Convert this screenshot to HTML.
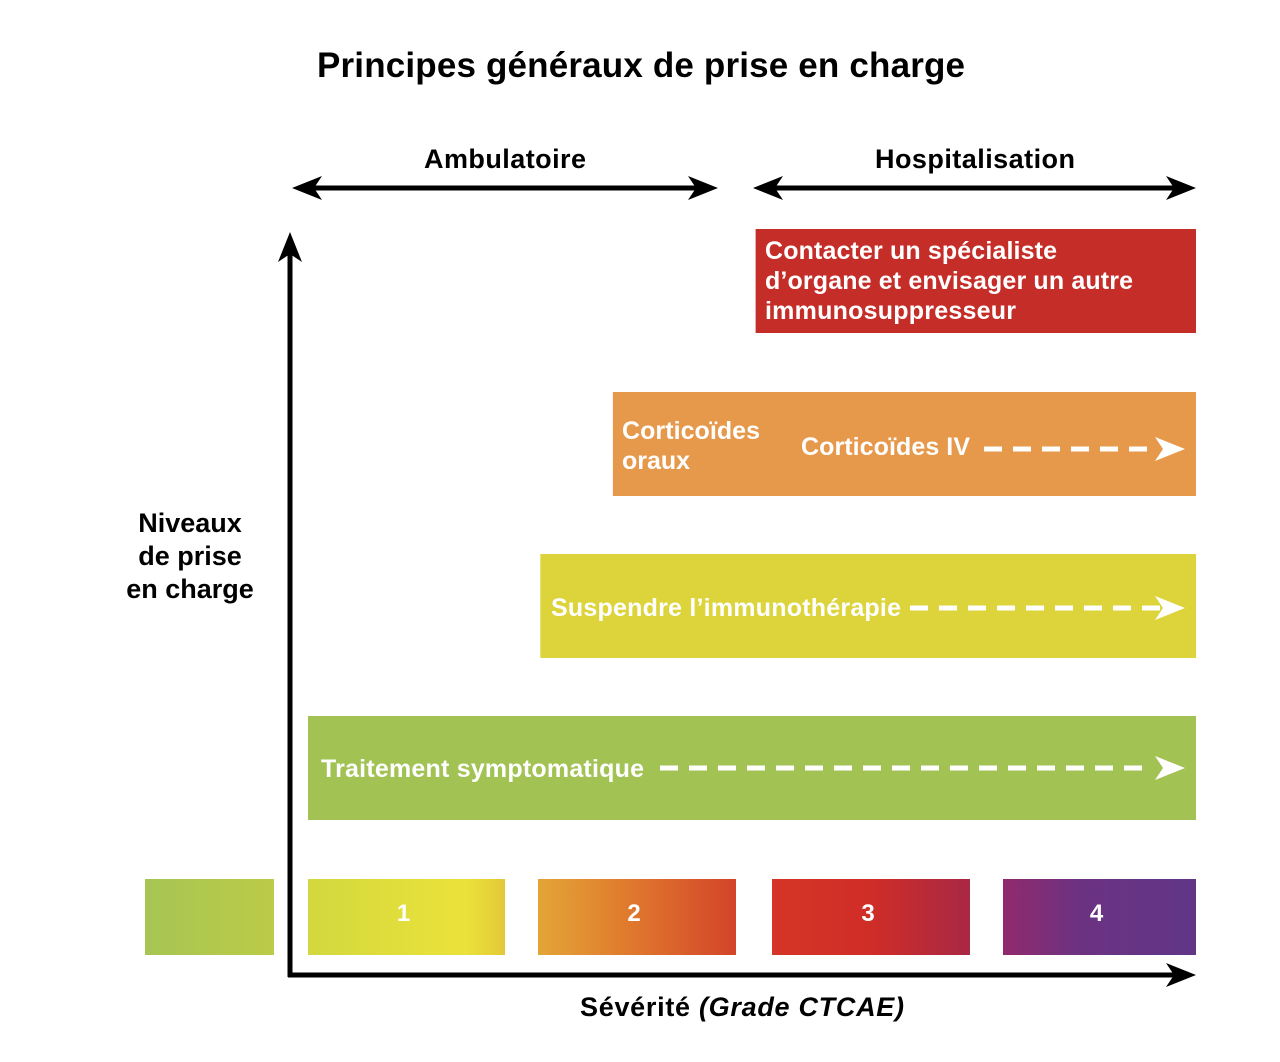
<!DOCTYPE html>
<html><head><meta charset="utf-8"><style>
html,body{margin:0;padding:0;background:#fff;}
svg{display:block;font-family:"Liberation Sans",sans-serif;}
</style></head><body>
<svg id="chart" width="1280" height="1062" viewBox="0 0 1280 1062">
<defs>
<linearGradient id="g0" x1="0" x2="1"><stop offset="0" stop-color="#a6c553"/><stop offset="1" stop-color="#bccb47"/></linearGradient>
<linearGradient id="g1" x1="0" x2="1"><stop offset="0" stop-color="#d2d83e"/><stop offset="0.8" stop-color="#ebe23a"/><stop offset="1" stop-color="#e3c838"/></linearGradient>
<linearGradient id="g2" x1="0" x2="1"><stop offset="0" stop-color="#e3a537"/><stop offset="0.45" stop-color="#e07a2e"/><stop offset="1" stop-color="#d34429"/></linearGradient>
<linearGradient id="g3" x1="0" x2="1"><stop offset="0" stop-color="#d53526"/><stop offset="0.5" stop-color="#cf2d27"/><stop offset="1" stop-color="#a82845"/></linearGradient>
<linearGradient id="g4" x1="0" x2="1"><stop offset="0" stop-color="#912a6c"/><stop offset="0.4" stop-color="#6c3282"/><stop offset="1" stop-color="#613687"/></linearGradient>
</defs>
<text x="641" y="77" text-anchor="middle" font-size="35" font-weight="bold" textLength="648">Principes généraux de prise en charge</text>
<text x="505" y="168" text-anchor="middle" font-size="27" font-weight="bold" textLength="162">Ambulatoire</text>
<text x="975" y="168" text-anchor="middle" font-size="27" font-weight="bold" textLength="200">Hospitalisation</text>
<g id="arrows"></g>
<g id="levels"></g>
<g id="grades"></g>
<text x="190" y="532" text-anchor="middle" font-size="27" font-weight="bold"><tspan x="190">Niveaux</tspan><tspan x="190" dy="33">de prise</tspan><tspan x="190" dy="33">en charge</tspan></text>
<text x="742" y="1016" text-anchor="middle" font-size="27" font-weight="bold" textLength="324">Sévérité <tspan font-style="italic">(Grade CTCAE)</tspan></text>
</svg>
<script>
const NS="http://www.w3.org/2000/svg";
const gradeLabels=["","1","2","3","4"];
const gradeStarts=[0,1,2,3,4];
const levelNames=["Traitement symptomatique","Suspendre l’immunothérapie","Corticoïdes","Contacter un spécialiste"];
const levelStartGrade=[1.0,2.01,2.32,2.93];
const levelColors=["#a2c254","#dcd43a","#e6994b","#c52d28"];
function xg(g){
  const k=[145,308,538,772,1003,1196];
  if(g<=0) return k[0];
  const i=Math.min(Math.floor(g),4), f=g-i;
  return k[i]+(k[i+1]-k[i])*f;
}
const gradeW=[129,197,198,198,193];
function mk(tag,attrs,parent){const e=document.createElementNS(NS,tag);for(const k in attrs)e.setAttribute(k,attrs[k]);parent.appendChild(e);return e;}
const arrows=document.getElementById('arrows');
function head(x,y,dir,par,color){
  let p;
  if(dir==='r')p=`M${x},${y} L${x-30},${y-12} L${x-22},${y} L${x-30},${y+12}Z`;
  if(dir==='l')p=`M${x},${y} L${x+30},${y-12} L${x+22},${y} L${x+30},${y+12}Z`;
  if(dir==='u')p=`M${x},${y} L${x-12},${y+30} L${x},${y+22} L${x+12},${y+30}Z`;
  return mk('path',{d:p,fill:color},par);
}
let e;
e=mk('line',{x1:300,y1:188,x2:710,y2:188,stroke:'#000','stroke-width':5},arrows);

head(292,188,'l',arrows,'#000');head(718,188,'r',arrows,'#000');
e=mk('line',{x1:760,y1:188,x2:1188,y2:188,stroke:'#000','stroke-width':5},arrows);

head(753,188,'l',arrows,'#000');head(1196,188,'r',arrows,'#000');
e=mk('line',{x1:290,y1:245,x2:290,y2:977,stroke:'#000','stroke-width':5},arrows);

head(290,232,'u',arrows,'#000');
e=mk('line',{x1:288,y1:975,x2:1185,y2:975,stroke:'#000','stroke-width':5},arrows);

head(1196,975,'r',arrows,'#000');

const levels=document.getElementById('levels');
const levelTop=[716,554,392,229];
function dashed(x1,x2,y,par){
  for(let x=x1;x+17<x2-24;x+=29){mk('rect',{x:x,y:y-2.5,width:18,height:5,fill:'#fff'},par);}
  head(x2,y,'r',par,'#fff');
}
levelNames.forEach((n,i)=>{
  const g=mk('g',{},levels);
  
  
  const x=xg(levelStartGrade[i]);
  mk('rect',{x:x,y:levelTop[i],width:1196-x,height:104,fill:levelColors[i]},g);
});
const L=levels.children;
function txt(par,x,y,s,extra){const t=mk('text',Object.assign({x:x,y:y,fill:'#fff','font-size':25,'font-weight':'bold'},extra||{}),par);t.textContent=s;return t;}
let t;
t=txt(L[0],321,777,"Traitement symptomatique",{textLength:323});

dashed(660,1185,768,L[0]);
t=txt(L[1],551,616,"Suspendre l’immunothérapie",{textLength:350});

dashed(910,1185,608,L[1]);
t=txt(L[2],622,439,"Corticoïdes",{textLength:138});
t=txt(L[2],622,469,"oraux");
t=txt(L[2],801,455,"Corticoïdes IV",{textLength:169});
dashed(984,1185,449,L[2]);
t=txt(L[3],765,259,"Contacter un spécialiste",{textLength:292});
txt(L[3],765,289,"d’organe et envisager un autre",{textLength:368});
txt(L[3],765,319,"immunosuppresseur",{textLength:251});

const grades=document.getElementById('grades');
gradeStarts.forEach((g,i)=>{
  const gg=mk('g',{},grades);
  
  
  const x=xg(g);
  mk('rect',{x:x,y:879,width:gradeW[i],height:76,fill:'url(#g'+i+')'},gg);
  if(gradeLabels[i]){const tt=mk('text',{x:x+gradeW[i]/2-3,y:921,'text-anchor':'middle',fill:'#fff','font-size':24,'font-weight':'bold'},gg);tt.textContent=gradeLabels[i];}
});
</script>
</body></html>
